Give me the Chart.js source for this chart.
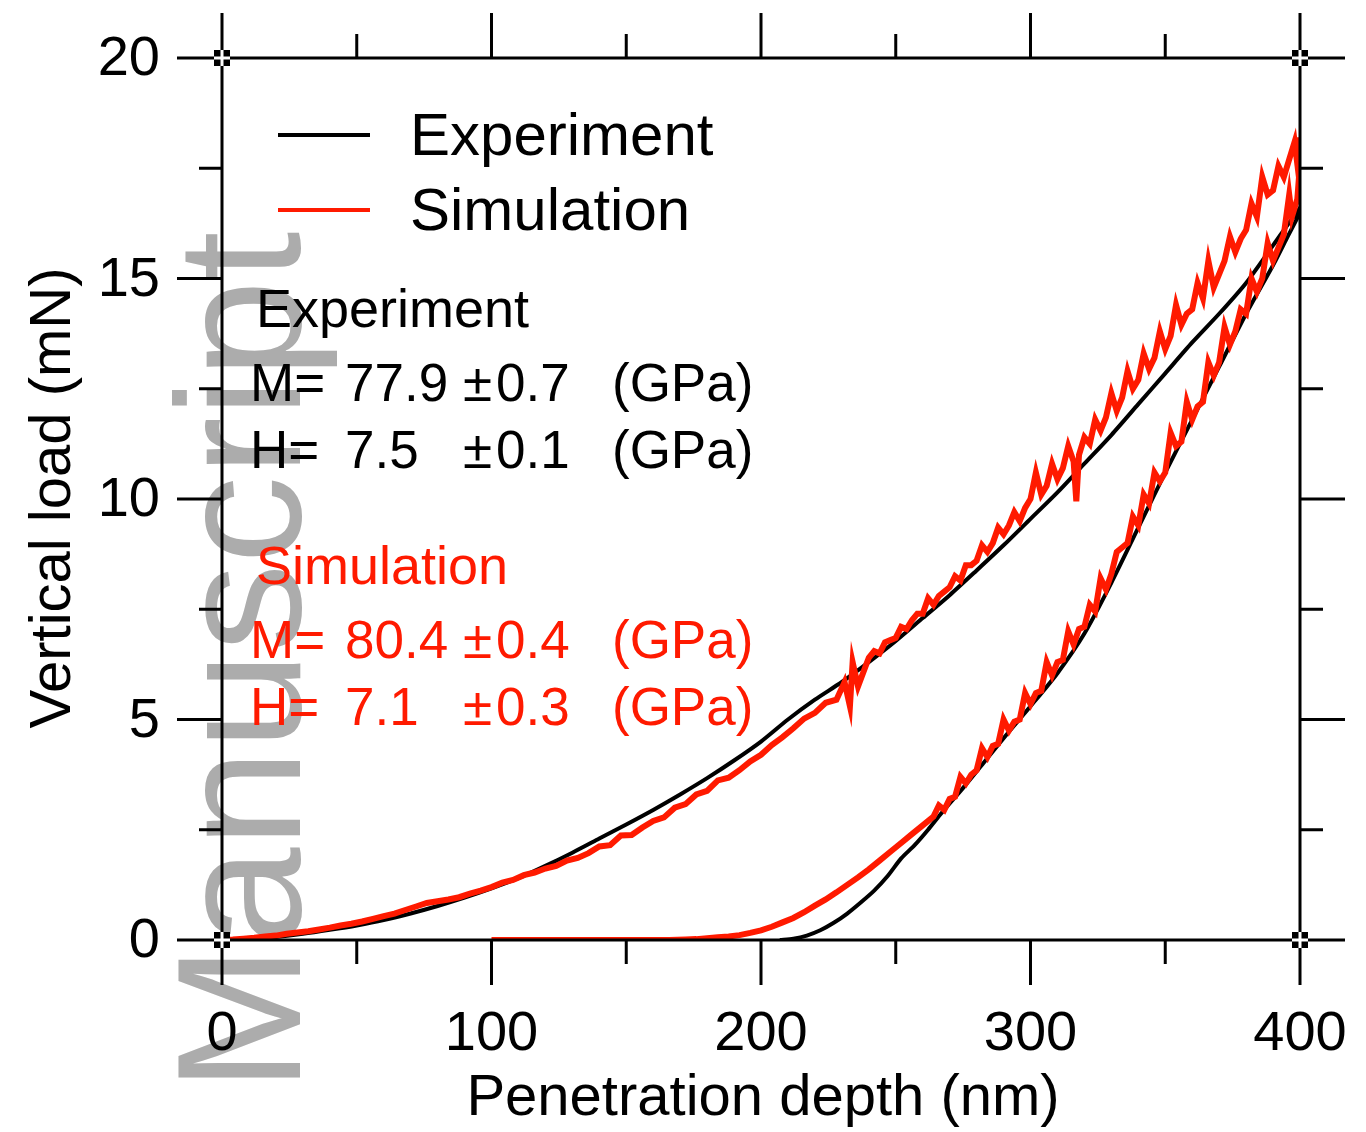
<!DOCTYPE html>
<html>
<head>
<meta charset="utf-8">
<script src="https://cdn.jsdelivr.net/npm/chart.js@4.4.1/dist/chart.umd.min.js"></script>
<style>
html,body{margin:0;padding:0;background:#fff;}
canvas{display:block;}
</style>
</head>
<body>
<canvas id="c" width="1366" height="1132"></canvas>
<script>
// ---------- data (depth nm, load mN) ----------
const xTicks = [0, 100, 200, 300, 400];
const yTicks = [0, 5, 10, 15, 20];
const seriesNames = ['Experiment', 'Simulation'];

const expLoadDepth = [0,10,20,30,40,50,60,70,80,90,100,110,120,130,140,150,160,170,180,190,200,210,220,230,240,250,260,270,280,290,300,310,320,330,340,350,360,370,380,390,400];
const expLoad      = [0,0.02,0.07,0.14,0.23,0.33,0.45,0.6,0.77,0.96,1.17,1.4,1.68,1.98,2.3,2.62,2.95,3.3,3.67,4.07,4.5,5.0,5.45,5.85,6.3,6.78,7.3,7.82,8.38,8.95,9.55,10.15,10.8,11.45,12.15,12.85,13.55,14.2,14.9,15.75,16.6];
const expUnloadDepth = [400,395,390,380,370,360,350,340,330,320,310,300,291,283,275,267,262,257,252,247,242,237,232,227,222,217,212,207];
const expUnload      = [16.5,15.9,15.3,14.2,13.0,11.8,10.6,9.35,8.1,6.95,6.05,5.3,4.65,4.05,3.45,2.88,2.5,2.15,1.85,1.45,1.12,0.85,0.6,0.39,0.22,0.1,0.03,0];

const simLoadDepth = [0,4,8,12,16,20,24,28,32,36,40,44,48,52,56,60,64,68,72,76,80,84,88,92,96,100,104,108,112,116,120,124,128,132,136,140,144,148,152,156,160,164,168,172,176,180,184,188,192,196,200,204,208,212,216,220,224,228,231,233,234,236,
  240,242,244,246,248,250,252,254,256,258,260,262,264,266,268,270,272,274,276,278,280,282,284,286,288,290,292,294,296,298,
  300,302,304,306,308,310,312,314,316,317,318,320,322,324,326,328,330,332,334,336,338,340,342,344,346,348,350,352,354,356,358,
  360,362,364,366,368,370,372,374,376,378,380,382,384,386,388,390,392,394,396,398,399,400];
const simLoad      = [0,0.01,0.03,0.05,0.08,0.1,0.14,0.17,0.2,0.24,0.28,0.33,0.37,0.42,0.48,0.54,0.6,0.68,0.76,0.84,0.88,0.92,0.97,1.05,1.12,1.2,1.3,1.36,1.47,1.53,1.62,1.68,1.8,1.86,1.97,2.12,2.15,2.37,2.38,2.55,2.7,2.78,3.0,3.08,3.3,3.38,3.62,3.68,3.85,4.05,4.2,4.42,4.6,4.8,5.02,5.15,5.38,5.45,5.85,5.3,6.3,5.75,
  6.4,6.55,6.5,6.75,6.8,6.85,7.1,7.05,7.25,7.4,7.4,7.75,7.6,7.8,7.9,8.0,8.25,8.15,8.5,8.5,8.6,8.95,8.8,9.0,9.35,9.2,9.4,9.7,9.5,9.8,
  10.0,10.6,10.1,10.3,10.8,10.45,10.7,11.2,10.85,9.95,11.0,11.4,11.25,11.8,11.55,11.85,12.4,12.0,12.3,12.9,12.5,12.7,13.3,12.95,13.2,13.8,13.4,13.7,14.4,13.95,14.2,
  14.3,14.9,14.55,15.4,14.8,15.1,15.4,15.95,15.6,15.9,16.1,16.7,16.4,17.3,16.9,17.0,17.55,17.3,17.7,18.1,17.6,18.2];
const simUnloadDepth = [400,399,397,396,394,392,390,388,386,384,382,380,378,376,374,372,370,368,366,364,362,360,358,356,354,352,350,348,346,344,342,340,338,336,334,332,330,328,326,324,322,320,318,316,314,312,310,308,306,304,302,300,298,296,294,292,290,288,286,284,282,280,278,276,274,272,270,268,266,264,260,256,252,248,244,240,236,232,228,224,220,216,212,208,204,200,196,192,188,184,180,176,172,166,100];
const simUnload      = [17.6,16.8,16.4,16.9,16.0,15.7,15.4,15.8,15.0,14.7,15.0,14.2,14.3,13.8,13.5,13.9,13.1,12.8,13.1,12.2,12.1,11.8,12.2,11.3,11.2,11.5,10.6,10.4,10.6,9.9,10.1,9.4,9.6,9.0,8.9,8.8,8.3,7.95,8.2,7.45,7.6,7.1,7.05,6.7,7.0,6.35,6.3,6.0,6.3,5.65,5.6,5.35,5.6,5.0,4.95,4.75,5.0,4.45,4.4,4.15,4.35,3.85,3.75,3.55,3.7,3.25,3.2,2.95,3.05,2.8,2.6,2.4,2.2,2.0,1.8,1.6,1.42,1.25,1.08,0.92,0.78,0.63,0.5,0.4,0.3,0.22,0.16,0.11,0.08,0.06,0.04,0.02,0.01,0,0];

const expStatsM = ['77.9', '0.7'];
const expStatsH = ['7.5', '0.1'];
const simStatsM = ['80.4', '0.4'];
const simStatsH = ['7.1', '0.3'];

// ---------- build datasets ----------
function pairs(xs, ys){ return xs.map((x,i)=>({x:x, y:ys[i]})); }
const expData = pairs(expLoadDepth, expLoad).concat(pairs(expUnloadDepth, expUnload));
const simData = pairs(simLoadDepth, simLoad).concat(pairs(simUnloadDepth, simUnload));

const FONT = '"Liberation Sans", Arial, Helvetica, sans-serif';

const framePlugin = {
  id: 'frame',
  beforeDraw(chart){
    const ctx = chart.ctx;
    ctx.save();
    ctx.fillStyle = '#ffffff';
    ctx.fillRect(0,0,chart.width,chart.height);
    // watermark
    ctx.translate(300, 1092);
    ctx.rotate(-Math.PI/2);
    ctx.fillStyle = 'rgb(172,172,172)';
    ctx.font = '176px ' + FONT;
    ctx.textBaseline = 'alphabetic';
    ctx.textAlign = 'left';
    ctx.fillText('Manuscript', 0, 0);
    ctx.textAlign = 'right';
    ctx.fillText('Accepted ', 0, 0);
    ctx.restore();
  },
  afterDatasetsDraw(chart){
    const ctx = chart.ctx;
    const xs = chart.scales.x, ys = chart.scales.y;
    const L = xs.left, R = xs.right, T = ys.top, B = ys.bottom;
    ctx.save();
    ctx.strokeStyle = '#000';
    ctx.lineWidth = 3;
    ctx.lineCap = 'butt';
    // frame
    ctx.strokeRect(L, T, R-L, B-T);
    // x ticks
    for (let v = 0; v <= 400; v += 50){
      const p = xs.getPixelForValue(v);
      const major = v % 100 === 0;
      const len = major ? 45 : 24;
      ctx.beginPath();
      ctx.moveTo(p, B); ctx.lineTo(p, B+len);
      ctx.moveTo(p, T); ctx.lineTo(p, T-len);
      ctx.stroke();
    }
    // y ticks
    for (let v = 0; v <= 20; v += 2.5){
      const p = ys.getPixelForValue(v);
      const major = v % 5 === 0;
      const len = major ? 45 : 23;
      ctx.beginPath();
      ctx.moveTo(L, p); ctx.lineTo(L-len, p);
      ctx.moveTo(R, p); ctx.lineTo(R+len, p);
      ctx.stroke();
    }
    // corner markers
    [[L,T],[R,T],[L,B],[R,B]].forEach(([cx,cy])=>{
      ctx.fillStyle = '#000';
      ctx.fillRect(cx-8, cy-8, 16, 16);
      ctx.fillStyle = '#fff';
      ctx.fillRect(cx-1.5, cy-8, 3, 16);
      ctx.fillRect(cx-8, cy-1.5, 16, 3);
    });
    // tick labels
    ctx.fillStyle = '#000';
    ctx.font = '56px ' + FONT;
    ctx.textAlign = 'center';
    ctx.textBaseline = 'alphabetic';
    xTicks.forEach(v=>{
      ctx.fillText(String(v), xs.getPixelForValue(v), 1050);
    });
    ctx.textAlign = 'right';
    ctx.textBaseline = 'middle';
    yTicks.forEach(v=>{
      ctx.fillText(String(v), 160, ys.getPixelForValue(v) + 2);
    });
    // axis titles
    ctx.font = '58px ' + FONT;
    ctx.textAlign = 'center';
    ctx.textBaseline = 'alphabetic';
    ctx.fillText('Penetration depth (nm)', (L+R)/2 + 2, 1115);
    ctx.save();
    ctx.translate(70, 498);
    ctx.rotate(-Math.PI/2);
    ctx.fillText('Vertical load (mN)', 0, 0);
    ctx.restore();

    // legend
    const ds = chart.data.datasets;
    ctx.font = '60px ' + FONT;
    ctx.textAlign = 'left';
    ctx.textBaseline = 'alphabetic';
    const legY = [135, 210];
    ds.forEach((d,i)=>{
      ctx.strokeStyle = d.borderColor;
      ctx.lineWidth = 4;
      ctx.beginPath();
      ctx.moveTo(278, legY[i]); ctx.lineTo(370, legY[i]);
      ctx.stroke();
      ctx.fillStyle = '#000';
      ctx.fillText(d.label, 410, legY[i] + 20);
    });

    // annotation blocks
    function block(title, color, m, h, y0){
      ctx.fillStyle = color;
      ctx.font = '54px ' + FONT;
      ctx.fillText(title, 256, y0);
      ctx.font = '53px ' + FONT;
      const rows = [['M=', m, y0 + 74], ['H=', h, y0 + 141]];
      rows.forEach(([lab, vals, y])=>{
        ctx.fillText(lab, 250, y);
        ctx.fillText(vals[0], 345, y);
        ctx.fillText('\u00B1', 463, y);
        ctx.fillText(vals[1], 496, y);
        ctx.fillText('(GPa)', 612, y);
      });
    }
    block('Experiment', '#000', expStatsM, expStatsH, 327);
    block('Simulation', '#ff1a00', simStatsM, simStatsH, 584);
    ctx.restore();
  }
};

new Chart(document.getElementById('c'), {
  type: 'scatter',
  data: {
    datasets: [
      { label: seriesNames[0], data: expData, showLine: true, borderColor: '#000000', borderWidth: 4,
        pointRadius: 0, tension: 0.25, order: 2 },
      { label: seriesNames[1], data: simData, showLine: true, borderColor: '#ff1a00', borderWidth: 6,
        pointRadius: 0, tension: 0, order: 1, borderJoinStyle: 'miter' }
    ]
  },
  options: {
    responsive: false,
    devicePixelRatio: 1,
    animation: false,
    layout: { padding: { left: 222, right: 66, top: 58, bottom: 192 } },
    plugins: { legend: { display: false }, tooltip: { enabled: false } },
    scales: {
      x: { type: 'linear', min: 0, max: 400, display: false },
      y: { type: 'linear', min: 0, max: 20, display: false }
    }
  },
  plugins: [framePlugin]
});
</script>
</body>
</html>
